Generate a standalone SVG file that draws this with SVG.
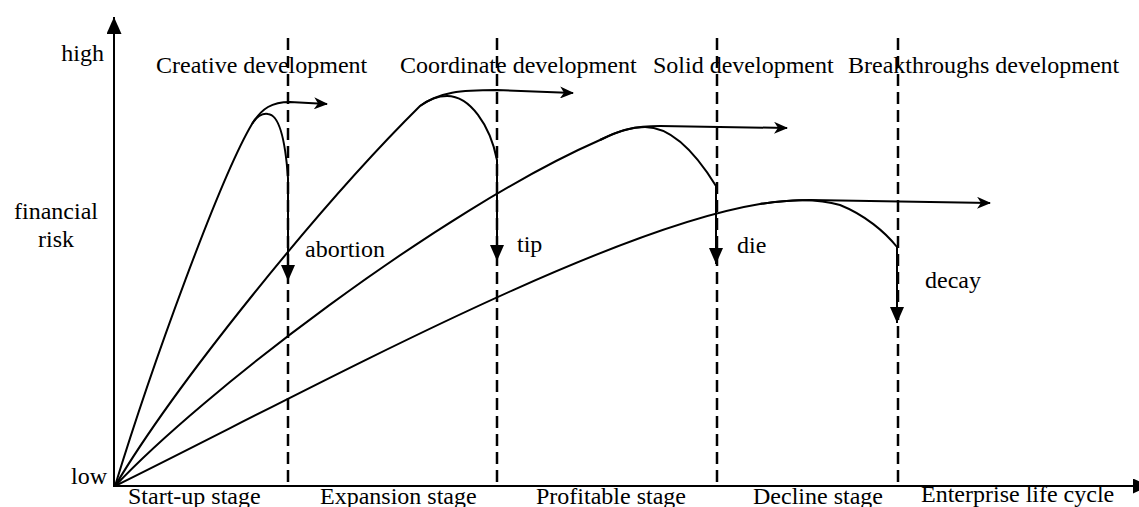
<svg xmlns="http://www.w3.org/2000/svg" width="1139" height="507" viewBox="0 0 1139 507">
<style>
text{font-family:"Liberation Serif","Times New Roman",serif;font-size:24px;fill:#000}
.ax{stroke:#000;stroke-width:2;fill:none}
.dash{stroke:#000;stroke-width:2.5;stroke-dasharray:12 6;fill:none}
.cv{stroke:#000;stroke-width:2;fill:none}
.go{marker-end:url(#barb)}
.drop{marker-end:url(#tri)}
</style>
<defs>
<marker id="barb" markerUnits="userSpaceOnUse" viewBox="0 0 14 12" refX="13" refY="6" markerWidth="14" markerHeight="12" orient="auto"><path d="M0,0 L14,6 L0,12 L4,6 z" fill="#000"/></marker>
<marker id="tri" markerUnits="userSpaceOnUse" viewBox="0 0 16 14" refX="16" refY="7" markerWidth="16" markerHeight="14" orient="auto"><path d="M0,0 L16,7 L0,14 z" fill="#000"/></marker>
<marker id="axarrow" markerUnits="userSpaceOnUse" viewBox="0 0 17 15" refX="17" refY="7.5" markerWidth="17" markerHeight="15" orient="auto"><path d="M0,0 L17,7.5 L0,15 z" fill="#000"/></marker>
</defs>
<g id="axes">
<line class="ax" x1="114" y1="487" x2="114" y2="17" marker-end="url(#axarrow)"/>
<line class="ax" x1="113" y1="486" x2="1150" y2="486" marker-end="url(#axarrow)"/>
</g>
<g id="stage-dividers">
<line class="dash" x1="288" y1="38" x2="288" y2="486"/>
<line class="dash" x1="497" y1="38" x2="497" y2="486"/>
<line class="dash" x1="717" y1="38" x2="717" y2="486"/>
<line class="dash" x1="898" y1="38" x2="898" y2="486"/>
</g>
<g id="connectors">
<path class="cv go" d="M115,486 C152,365 220,178 252,124 C262,108 272,102 290,102 L327,104"/>
<path class="cv drop" d="M252,124 C257,116 262,113 268,114 C281,115 286,150 288,178 L288,281"/>
<path class="cv go" d="M115,486 C175,385 320,205 420,106 C440,92 460,90 497,90 L573,93"/>
<path class="cv drop" d="M420,106 C432,97 440,96 447,96 C470,96 490,125 497,160 L497,261"/>
<path class="cv go" d="M115,486 C200,395 440,210 600,140 C620,130 635,126 660,126 L787,128"/>
<path class="cv drop" d="M600,140 C615,132 630,127 645,127 C675,127 700,160 716,186 L716,264"/>
<path class="cv go" d="M115,486 C300,395 600,230 760,204 C780,201 790,200 810,200 L990,203"/>
<path class="cv drop" d="M760,204 C790,199 820,199 840,205 C865,215 885,232 897,247 L897,323"/>
</g>
<g id="axis-labels">
<text x="104" y="61" text-anchor="end">high</text>
<text x="56" y="219" text-anchor="middle">financial</text>
<text x="56" y="247" text-anchor="middle">risk</text>
<text x="107" y="484" text-anchor="end">low</text>
</g>
<g id="development-labels">
<text x="156" y="73">Creative development</text>
<text x="400" y="73">Coordinate development</text>
<text x="653" y="73">Solid development</text>
<text x="848" y="73">Breakthroughs development</text>
</g>
<g id="outcome-labels">
<text x="305" y="257">abortion</text>
<text x="517" y="252">tip</text>
<text x="737" y="253">die</text>
<text x="925" y="288">decay</text>
</g>
<g id="stage-labels">
<text x="128" y="504">Start-up stage</text>
<text x="320" y="504">Expansion stage</text>
<text x="536" y="504">Profitable stage</text>
<text x="753" y="504">Decline stage</text>
<text x="921" y="502">Enterprise life cycle</text>
</g>
</svg>
